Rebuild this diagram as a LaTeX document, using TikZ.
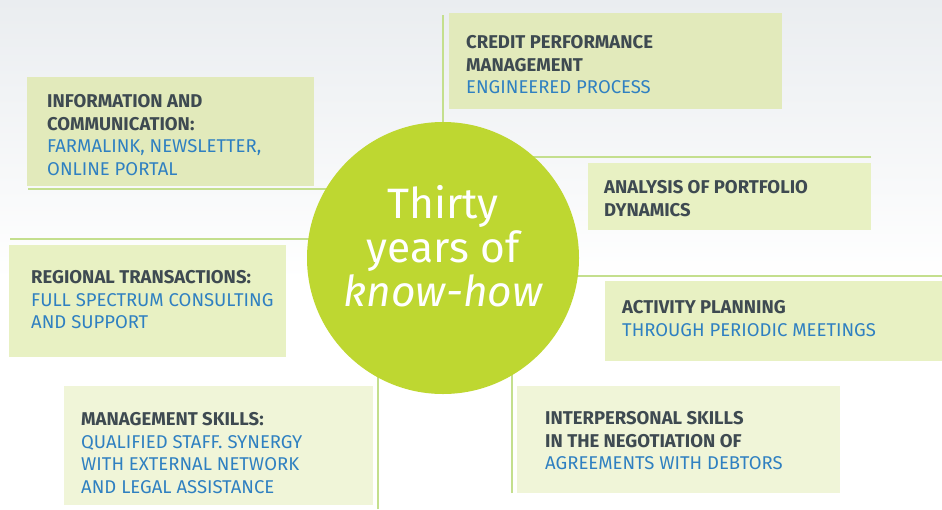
\documentclass[tikz,border=0pt]{standalone}
\usepackage{fontspec}
\setmainfont{Fira Sans}
\definecolor{hubgreen}{HTML}{BED731}
\definecolor{rulegreen}{HTML}{C4DF8E}
\definecolor{bgtop}{HTML}{EAEDF0}
\definecolor{boxa}{HTML}{E2EABB}
\definecolor{boxb}{HTML}{E8F1C3}
\definecolor{boxc}{HTML}{F0F5D8}
\definecolor{darktext}{HTML}{3E4A51}
\definecolor{bluetext}{HTML}{2F80C1}
\newcommand{\hl}[1]{{\bfseries\color{darktext}#1}}
\newcommand{\bl}[1]{{\color{bluetext}#1}}
\begin{document}
\begin{tikzpicture}[x=1pt,y=-1pt,
  panel/.style={inner sep=0pt, anchor=north west, draw=none},
  rule/.style={draw=rulegreen, line width=1.8pt},
  blocktext/.style={anchor=base west, align=left, inner sep=0pt,
    font=\fontsize{18.5}{22.7}\selectfont},
  hubtext/.style={align=center, inner sep=0pt, text=white,
    font=\fontsize{42.5}{44}\selectfont}]
\useasboundingbox (0,0) rectangle (942,509);
\fill[white] (0,0) rectangle (942,509);
\shade[top color=bgtop, bottom color=white] (0,0) rectangle (942,280);

\coordinate (hubc) at (443,258);

% boxes
\node[panel, fill=boxa, minimum width=287pt, minimum height=109pt] (b1) at (27,77) {};
\node[panel, fill=boxa, minimum width=333pt, minimum height=96pt] (b2) at (449,13) {};
\node[panel, fill=boxb, minimum width=283pt, minimum height=67pt] (b3) at (588,163) {};
\node[panel, fill=boxb, minimum width=277pt, minimum height=112pt] (b4) at (9,245) {};
\node[panel, fill=boxb, minimum width=337pt, minimum height=80pt] (b5) at (605,281) {};
\node[panel, fill=boxc, minimum width=309pt, minimum height=119pt] (b6) at (64,386) {};
\node[panel, fill=boxc, minimum width=323pt, minimum height=107pt] (b7) at (517,386) {};

% rules
\coordinate (r1) at (28,189);
\coordinate (r2) at (443,15);
\coordinate (r3) at (871,157);
\coordinate (r4) at (10,239);
\coordinate (r5) at (942,276);
\coordinate (r6) at (378,509);
\coordinate (r7) at (512,493);
\draw[rule] (r1) -- (r1 -| hubc);
\draw[rule] (r2) -- (hubc);
\draw[rule] (r3) -- (r3 -| hubc);
\draw[rule] (r4) -- (r4 -| hubc);
\draw[rule] (r5) -- (r5 -| hubc);
\draw[rule] (r6) -- (r6 |- hubc);
\draw[rule] (r7) -- (r7 |- hubc);

% hub
\node[circle, fill=hubgreen, minimum size=272pt, inner sep=0pt] (hub) at (hubc) {};
\node[hubtext, anchor=base] (h1) at (443,218) {Thirty};
\node[hubtext, anchor=base] (h2) at (443,262) {years of};
\node[hubtext, anchor=base] (h3) at (443,306) {\itshape know-how};

% texts (anchor = last baseline + offset)
\node[blocktext] (t1) at (47,175.6) {\hl{INFORMATION AND}\\\hl{COMMUNICATION:}\\\bl{FARMALINK, NEWSLETTER,}\\\bl{ONLINE PORTAL}};
\node[blocktext] (t2) at (466,93.9) {\hl{CREDIT PERFORMANCE}\\\hl{MANAGEMENT}\\\bl{ENGINEERED PROCESS}};
\node[blocktext] (t3) at (604,216.2) {\hl{ANALYSIS OF PORTFOLIO}\\\hl{DYNAMICS}};
\node[blocktext] (t4) at (31,328.9) {\hl{REGIONAL TRANSACTIONS:}\\\bl{FULL SPECTRUM CONSULTING}\\\bl{AND SUPPORT}};
\node[blocktext] (t5) at (622,336.2) {\hl{ACTIVITY PLANNING}\\\bl{THROUGH PERIODIC MEETINGS}};
\node[blocktext] (t6) at (81,493.6) {\hl{MANAGEMENT SKILLS:}\\\bl{QUALIFIED STAFF. SYNERGY}\\\bl{WITH EXTERNAL NETWORK}\\\bl{AND LEGAL ASSISTANCE}};
\node[blocktext] (t7) at (545,469.9) {\hl{INTERPERSONAL SKILLS}\\\hl{IN THE NEGOTIATION OF}\\\bl{AGREEMENTS WITH DEBTORS}};
\end{tikzpicture}
\end{document}
